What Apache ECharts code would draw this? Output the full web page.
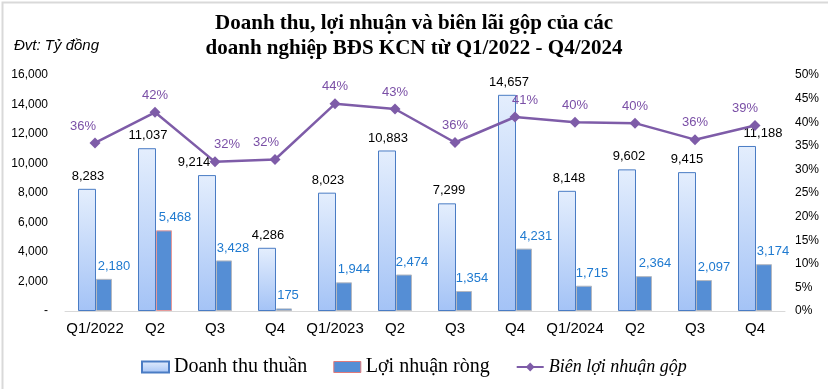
<!DOCTYPE html>
<html><head><meta charset="utf-8">
<script src="https://cdn.jsdelivr.net/npm/echarts@6/dist/echarts.min.js"></script>
<style>html,body{margin:0;padding:0;background:#fff}#c{width:828px;height:389px}</style>
</head><body><div id="c"></div>
<script>
var categories = ['Q1/2022','Q2','Q3','Q4','Q1/2023','Q2','Q3','Q4','Q1/2024','Q2','Q3','Q4'];
var revenue = [8283, 11037, 9214, 4286, 8023, 10883, 7299, 14657, 8148, 9602, 9415, 11188];
var profit = [2180, 5468, 3428, 175, 1944, 2474, 1354, 4231, 1715, 2364, 2097, 3174];
var margin = [35.6, 42.1, 31.6, 32.1, 43.9, 42.8, 35.7, 41.1, 40.0, 39.8, 36.3, 39.3];
var leftTicks = [0, 16000, 2000];
var rightTicks = [0, 50, 5];

// label style shifts (presentation only, horizontal px)
var revLabelShiftX = [1, 1, -13, 1, 1, 1, 2, 2, 2, 2, 0, 16];
var profLabelShiftX = [10, 11, 9, 4, 10, 8, 8, 12, 8, 11, 10, 9];
var lineLabelShiftX = [-12, 0, 12, -9, 0, 0, 0, 10, 0, 0, 0, -10];

var chart = echarts.init(document.getElementById('c'), null, {renderer: 'canvas'});
var SANS = '"Liberation Sans", Arial, sans-serif';
var SERIF = '"Liberation Serif", "DejaVu Serif", serif';

function fmt(v){ return v.toLocaleString('en-US'); }

var revenueData = revenue.map(function(v, i){
  return {value: v, label: {offset: [revLabelShiftX[i], 0]}};
});
var profitData = profit.map(function(v, i){
  var d = {value: v, label: {offset: [profLabelShiftX[i], 0]}};
  if (i === 1) d.itemStyle = {borderColor: '#e59a9a'};
  return d;
});
var marginData = margin.map(function(v, i){
  return {value: v, label: {offset: [lineLabelShiftX[i], 0]}};
});

chart.setOption({
  animation: false,
  backgroundColor: '#fff',
  title: [{
    text: 'Doanh thu, lợi nhuận và biên lãi gộp của các\ndoanh nghiệp BĐS KCN từ Q1/2022 - Q4/2024',
    left: 'center', top: 6,
    textStyle: {fontFamily: SERIF, fontWeight: 'bold', fontSize: 21, lineHeight: 25, color: '#000'}
  }, {
    text: 'Đvt: Tỷ đồng',
    left: 9, top: 33,
    textStyle: {fontFamily: SANS, fontStyle: 'italic', fontWeight: 'normal', fontSize: 15, color: '#000'}
  }],
  graphic: [{
    type: 'rect', left: 0, top: 0, silent: true,
    shape: {x: 0, y: 0, width: 827, height: 388},
    style: {fill: 'none', stroke: '#d9d9d9', lineWidth: 2}
  }],
  legend: {
    left: 141, top: 357, padding: 0,
    itemWidth: 27, itemHeight: 11, itemGap: 26,
    textStyle: {fontFamily: SERIF, fontSize: 20, color: '#000'},
    data: [
      {name: 'Doanh thu thuần', icon: 'rect'},
      {name: 'Lợi nhuận ròng', icon: 'rect', itemStyle: {borderColor: '#e07a7a', borderWidth: 1}},
      {name: 'Biên lợi nhuận gộp', textStyle: {fontStyle: 'italic', fontSize: 18}}
    ]
  },
  grid: {left: 65, right: 43, top: 75, bottom: 78, containLabel: false},
  xAxis: {
    type: 'category', data: categories,
    axisLine: {lineStyle: {color: '#d9d9d9', width: 1}},
    axisTick: {show: false},
    axisLabel: {fontFamily: SANS, fontSize: 15, color: '#000', margin: 10, interval: 0}
  },
  yAxis: [{
    type: 'value', min: leftTicks[0], max: leftTicks[1], interval: leftTicks[2],
    splitLine: {show: false}, axisLine: {show: false}, axisTick: {show: false},
    axisLabel: {fontFamily: SANS, fontSize: 12, color: '#000', margin: 17,
      formatter: function(v){ return v === 0 ? '-' : fmt(v); }}
  }, {
    type: 'value', min: rightTicks[0], max: rightTicks[1], interval: rightTicks[2],
    splitLine: {show: false}, axisLine: {show: false}, axisTick: {show: false},
    axisLabel: {fontFamily: SANS, fontSize: 12, color: '#000', margin: 10, formatter: '{value}%'}
  }],
  series: [{
    name: 'Doanh thu thuần', type: 'bar', data: revenueData,
    barWidth: 18, barGap: '0%',
    itemStyle: {
      color: new echarts.graphic.LinearGradient(0, 0, 0, 1, [
        {offset: 0, color: '#e4eefd'}, {offset: 1, color: '#a4c3f6'}
      ]),
      borderColor: '#4a7cc4', borderWidth: 1
    },
    label: {show: true, position: 'top', distance: 6,
      fontFamily: SANS, fontSize: 13, color: '#000', formatter: function(p){ return fmt(p.value); }}
  }, {
    name: 'Lợi nhuận ròng', type: 'bar', data: profitData,
    barWidth: 16,
    itemStyle: {color: '#558ed5', borderColor: '#b4b8c0', borderWidth: 1},
    label: {show: true, position: 'top', distance: 6,
      fontFamily: SANS, fontSize: 13, color: '#1f7ad0', formatter: function(p){ return fmt(p.value); }}
  }, {
    name: 'Biên lợi nhuận gộp', type: 'line', yAxisIndex: 1, data: marginData,
    symbol: 'diamond', symbolSize: 11,
    lineStyle: {color: '#7e5ca8', width: 2.5},
    itemStyle: {color: '#7e5ca8'},
    label: {show: true, position: 'top', distance: 5,
      fontFamily: SANS, fontSize: 13, color: '#7a4fa6',
      formatter: function(p){ return Math.round(p.value) + '%'; }}
  }]
});
</script></body></html>
